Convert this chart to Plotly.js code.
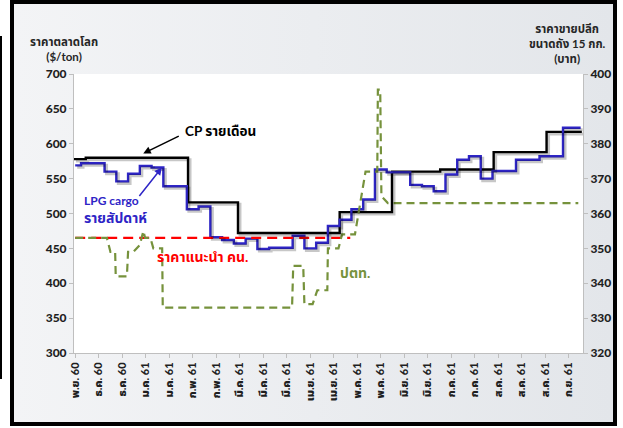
<!DOCTYPE html>
<html>
<head>
<meta charset="utf-8">
<script src="https://cdn.plot.ly/plotly-3.0.1.min.js"></script>
<style>
  html, body { margin:0; padding:0; width:623px; height:428px; overflow:hidden; background:#ffffff; }
  #frame { position:absolute; left:10px; top:0px; width:607px; height:426px; box-sizing:border-box;
           border:4px solid #000; background:linear-gradient(to right, #f3f4f6, #e3e6ea); }
  #edge { position:absolute; left:0px; top:36px; width:2px; height:343px; background:#000; }
  #chart { position:absolute; left:0; top:0; width:623px; height:428px; }
</style>
</head>
<body>
<div id="edge"></div>
<div id="frame"></div>
<div id="chart"></div>
<script>
// ---- data ----
// x tick labels (every 2 weeks)
const tickLabels = ["พ.ย. 60","ธ.ค. 60","ธ.ค. 60","ม.ค. 61","ม.ค. 61","ก.พ. 61","ก.พ. 61",
  "มี.ค. 61","มี.ค. 61","มี.ค. 61","เม.ย. 61","เม.ย. 61","พ.ค. 61","พ.ค. 61","มิ.ย. 61",
  "มิ.ย. 61","ก.ค. 61","ก.ค. 61","ส.ค. 61","ส.ค. 61","ส.ค. 61","ก.ย. 61"];
const tickWeeks = [0,2,4,6,8,10,12,14,16,18,20,22,24,26,28,30,32,34,36,38,40,42];

// LPG cargo weekly ($/ton), week 0..43
const lpgWeek = [0,1,2,3,4,5,6,7,8,9,10,11,12,13,14,15,16,17,18,19,20,21,22,23,24,25,26,27,28,29,30,31,32,33,34,35,36,37,38,39,40,41,42,43];
const lpgPrice = [569,572,572,560,546,557,568,566,539,539,506,510,466,462,457,464,449,451,451,468,450,458,482,491,506,520,563,559,559,541,539,532,556,577,582,550,561,561,577,577,582,582,623,623];

// CP monthly ($/ton): week at which each value starts
const cpWeek = [-0.1,0.9,9.6,13.85,22.5,26.95,31.05,35.6,40.1,43.1];
const cpPrice = [578,580,516,472,502,560,563,588,617,617];

// Recommended price (baht / 15 kg)
const recWeek = [0,23.4];
const recPrice = [353,353];

// PTT retail price (baht / 15 kg)
const pttWeek = [0,2.7,3.0,3.4,3.45,4.4,4.5,4.95,5.5,5.8,5.95,6.4,6.65,7.4,7.45,18.45,18.55,19.4,19.5,20.2,20.6,21.45,21.5,22.4,22.7,23.8,24.7,25.7,25.75,25.95,26.05,26.6,42.8];
const pttPrice = [353,353,349,349,342,342,349,349,351,355,353,353,350,350,333,333,345,345,334,334,338,338,350,350,354,354,372,372,395.5,395.5,365,363,363];

const FONT = "Lato, 'Noto Sans Thai', 'Noto Sans', 'DejaVu Sans', sans-serif";
const BLUE = "#2e25c6";
const GREEN = "#76923c";
const AXC = "#bfbfbf";

const X_RANGE = [-0.1, 43.2];
const Y_RANGE = [300, 700];
// shadow axes: same scales shifted ~2px right and ~2px down
const dxW = 2 * (X_RANGE[1] - X_RANGE[0]) / 509;
const dyV = 2 * (Y_RANGE[1] - Y_RANGE[0]) / 279;

const traces = [
  {x: cpWeek, y: cpPrice, xaxis:'x2', yaxis:'y3', mode:'lines', line:{color:'rgba(0,0,0,0.22)', width:3, shape:'hv'}, hoverinfo:'skip'},
  {x: lpgWeek, y: lpgPrice, xaxis:'x2', yaxis:'y3', mode:'lines', line:{color:'rgba(0,0,0,0.22)', width:3, shape:'hvh'}, hoverinfo:'skip'},
  {x: recWeek, y: recPrice, yaxis:'y2', mode:'lines', line:{color:'#ff0000', width:2.2, dash:'10px,6px'}, hoverinfo:'skip'},
  {x: pttWeek, y: pttPrice, yaxis:'y2', mode:'lines', line:{color:GREEN, width:2.2, dash:'8px,5px'}, hoverinfo:'skip'},
  {x: cpWeek, y: cpPrice, mode:'lines', line:{color:'#000000', width:2.4, shape:'hv'}, hoverinfo:'skip'},
  {x: lpgWeek, y: lpgPrice, mode:'lines', line:{color:BLUE, width:2.4, shape:'hvh'}, hoverinfo:'skip'}
];

const tickFont = {family: FONT, size: 12, color:'#1f1f1f', weight: 900};

const layout = {
  width: 623, height: 428,
  margin: {l:74, r:40, t:74, b:75, pad:0},
  paper_bgcolor: 'rgba(0,0,0,0)',
  plot_bgcolor: '#ffffff',
  showlegend: false,
  font: {family: FONT},
  xaxis: {range: X_RANGE, tickvals: tickWeeks, ticktext: tickLabels, tickangle:-90,
          showgrid:false, zeroline:false, showline:true, linecolor:AXC, linewidth:1,
          ticks:'outside', ticklen:4, tickcolor:AXC,
          tickfont:{family: FONT, size:11, color:'#1f1f1f', weight:900}},
  xaxis2: {range:[X_RANGE[0]-dxW, X_RANGE[1]-dxW], overlaying:'x', visible:false},
  yaxis: {range: Y_RANGE, dtick:50, showgrid:false, zeroline:false, showline:true, linecolor:AXC,
          ticks:'outside', ticklen:4, tickcolor:AXC, tickfont: tickFont},
  yaxis2: {range:[320,400], dtick:10, overlaying:'y', side:'right', showgrid:false, zeroline:false,
           showline:true, linecolor:AXC, ticks:'outside', ticklen:4, tickcolor:AXC, tickfont: tickFont},
  yaxis3: {range:[Y_RANGE[0]+dyV, Y_RANGE[1]+dyV], overlaying:'y', visible:false},
  annotations: [
    {xref:'paper', yref:'paper', x:-0.02, y:1.034, xanchor:'center', yanchor:'bottom', showarrow:false,
     text:'<b>ราคาตลาดโลก</b><br><b>($/ton)</b>', align:'center', font:{family:FONT, size:11.5, color:'#262626'}},
    {xref:'paper', yref:'paper', x:0.97, y:1.025, xanchor:'center', yanchor:'bottom', showarrow:false,
     text:'<b>ราคาขายปลีก</b><br><b>ขนาดถัง 15 กก.</b><br><b>(บาท)</b>', align:'center', font:{family:FONT, size:11.5, color:'#262626'}},
    {x:12.4, y:619, xref:'x', yref:'y', showarrow:false, text:'<b>CP รายเดือน</b>', font:{family:FONT, size:13.5, color:'#000'}},
    {x:5.79, y:586, ax:8.94, ay:612, xref:'x', yref:'y', axref:'x', ayref:'y', text:'', showarrow:true,
     arrowhead:2, arrowsize:1, arrowwidth:1.5, arrowcolor:'#000'},
    {x:0.55, y:519, xref:'x', yref:'y', xanchor:'left', showarrow:false, text:'<b>LPG cargo</b>', font:{family:FONT, size:12, color:BLUE}},
    {x:0.55, y:494, xref:'x', yref:'y', xanchor:'left', showarrow:false, text:'<b>รายสัปดาห์</b>', font:{family:FONT, size:14, color:BLUE}},
    {x:7.38, y:566, ax:5.36, ay:523, xref:'x', yref:'y', axref:'x', ayref:'y', text:'', showarrow:true,
     arrowhead:2, arrowsize:1, arrowwidth:1.5, arrowcolor:BLUE},
    {x:6.8, y:439, xref:'x', yref:'y', xanchor:'left', showarrow:false, text:'<b>ราคาแนะนำ คน.</b>', font:{family:FONT, size:14, color:'#ff0000'}},
    {x:23.8, y:415, xref:'x', yref:'y', showarrow:false, text:'<b>ปตท.</b>', font:{family:FONT, size:14, color:GREEN}}
  ]
};

Plotly.newPlot('chart', traces, layout, {staticPlot:true, displayModeBar:false});
</script>
</body>
</html>
